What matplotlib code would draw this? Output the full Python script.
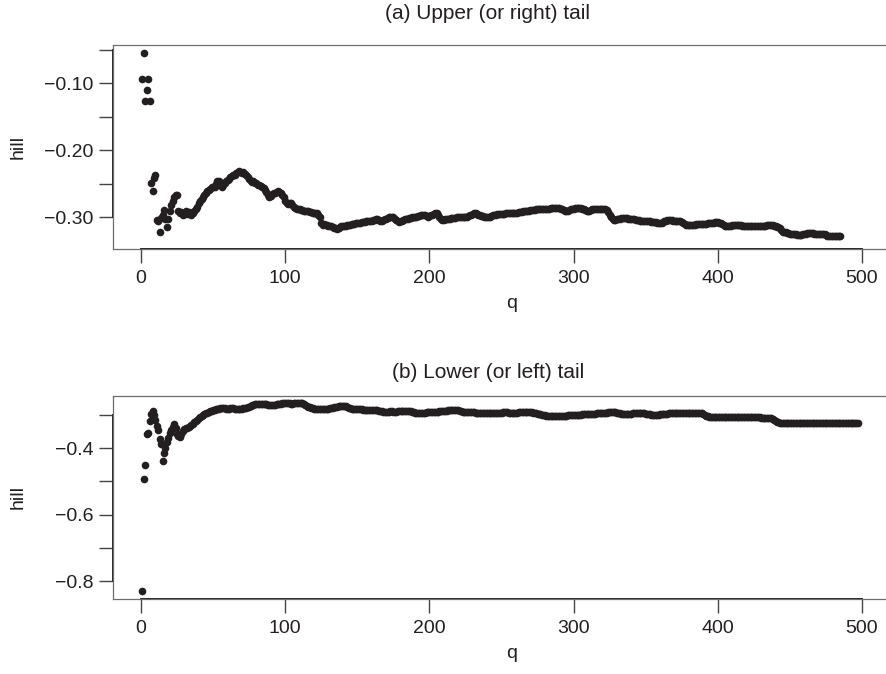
import numpy as np
import matplotlib.pyplot as plt

plt.rcParams['font.family'] = ['Liberation Sans', 'DejaVu Sans']

# hill estimates (x 1000), one value per q
hill_upper = np.array([
    -94, -55, -126, -110, -94, -126, -249, -260, -241, -236,
    -304, -306, -322, -301, -296, -289, -303, -314, -303, -291,
    -281, -276, -270, -267, -266, -290, -294, -292, -296, -293,
    -291, -295, -292, -294, -297, -293, -290, -287, -284, -279,
    -275, -272, -269, -266, -263, -261, -259, -257, -255, -254,
    -255, -250, -245, -246, -252, -255, -252, -249, -246, -244,
    -242, -240, -238, -237, -236, -234, -232, -231, -233, -234,
    -233, -235, -237, -240, -243, -246, -247, -246, -248, -249,
    -251, -252, -253, -254, -256, -259, -262, -266, -269, -268,
    -265, -263, -264, -262, -261, -262, -264, -267, -270, -275,
    -279, -280, -278, -279, -282, -284, -286, -287, -288, -288,
    -289, -289, -290, -290, -291, -291, -292, -292, -293, -293,
    -294, -294, -296, -299, -309, -311, -310, -311, -311, -312,
    -312, -313, -314, -315, -316, -317, -315, -314, -313, -313,
    -312, -312, -311, -311, -311, -310, -310, -310, -309, -309,
    -308, -308, -307, -307, -307, -306, -306, -305, -305, -305,
    -304, -304, -303, -303, -304, -305, -305, -304, -303, -302,
    -301, -300, -299, -299, -300, -302, -304, -306, -307, -305,
    -305, -304, -303, -302, -302, -301, -301, -300, -300, -299,
    -299, -298, -298, -297, -297, -296, -297, -298, -299, -298,
    -297, -296, -295, -294, -294, -296, -299, -302, -304, -304,
    -303, -303, -302, -302, -301, -301, -301, -301, -300, -300,
    -300, -300, -299, -299, -299, -299, -298, -297, -296, -295,
    -294, -294, -295, -296, -297, -298, -298, -299, -299, -299,
    -299, -299, -298, -297, -296, -296, -295, -295, -295, -295,
    -295, -295, -294, -294, -294, -294, -294, -294, -293, -293,
    -293, -292, -292, -292, -291, -291, -290, -290, -290, -289,
    -289, -289, -289, -288, -288, -288, -288, -287, -287, -287,
    -287, -287, -287, -286, -286, -286, -286, -286, -286, -286,
    -287, -288, -289, -290, -290, -290, -289, -288, -287, -287,
    -286, -286, -286, -286, -286, -287, -288, -289, -290, -290,
    -290, -289, -288, -287, -287, -287, -287, -287, -287, -287,
    -287, -288, -289, -292, -296, -300, -303, -304, -304, -303,
    -302, -302, -301, -301, -301, -301, -301, -302, -302, -303,
    -303, -303, -304, -304, -304, -305, -305, -305, -305, -306,
    -306, -306, -306, -307, -307, -307, -307, -308, -308, -308,
    -308, -307, -306, -305, -304, -304, -304, -304, -305, -305,
    -305, -306, -306, -306, -307, -309, -310, -311, -311, -311,
    -311, -311, -311, -311, -310, -310, -310, -310, -310, -310,
    -310, -310, -309, -309, -309, -308, -308, -307, -307, -307,
    -308, -309, -310, -311, -312, -312, -312, -312, -312, -311,
    -311, -311, -311, -311, -311, -311, -312, -312, -312, -312,
    -312, -312, -312, -313, -313, -313, -313, -313, -313, -313,
    -313, -312, -312, -311, -311, -311, -311, -311, -312, -313,
    -314, -314, -315, -318, -321, -322, -322, -323, -323, -324,
    -324, -324, -325, -325, -326, -326, -326, -326, -325, -324,
    -324, -323, -323, -323, -323, -323, -324, -324, -324, -324,
    -324, -325, -325, -325, -326, -327, -328, -328, -328, -328,
    -328, -328, -328, -328, -328,
]) / 1000

hill_lower = np.array([
    -829, -492, -452, -356, -353, -318, -298, -287, -300, -316,
    -333, -346, -372, -388, -439, -414, -398, -380, -368, -355,
    -345, -335, -326, -340, -358, -364, -366, -356, -348, -342,
    -340, -338, -335, -332, -329, -326, -322, -318, -314, -310,
    -306, -303, -300, -298, -295, -293, -291, -289, -287, -285,
    -284, -283, -282, -281, -280, -279, -279, -280, -281, -281,
    -281, -280, -280, -280, -281, -282, -283, -283, -282, -281,
    -280, -279, -278, -277, -275, -273, -271, -269, -268, -267,
    -267, -266, -266, -266, -267, -268, -268, -269, -270, -271,
    -271, -270, -269, -268, -267, -266, -266, -265, -264, -263,
    -263, -264, -265, -266, -266, -265, -264, -263, -263, -263,
    -264, -265, -267, -269, -272, -275, -277, -279, -280, -281,
    -282, -283, -283, -283, -283, -283, -283, -283, -282, -281,
    -280, -279, -278, -277, -276, -275, -274, -274, -273, -273,
    -273, -274, -276, -278, -280, -282, -283, -283, -283, -283,
    -283, -283, -283, -284, -284, -284, -284, -284, -285, -285,
    -285, -285, -286, -286, -287, -288, -289, -290, -290, -291,
    -290, -290, -289, -289, -290, -290, -290, -289, -289, -289,
    -289, -289, -288, -288, -288, -289, -289, -290, -291, -293,
    -294, -295, -295, -295, -295, -294, -293, -292, -292, -291,
    -291, -291, -291, -290, -290, -290, -289, -289, -288, -288,
    -287, -287, -286, -286, -285, -285, -284, -284, -284, -285,
    -287, -289, -290, -291, -291, -291, -291, -292, -292, -292,
    -292, -293, -293, -293, -293, -293, -294, -294, -294, -294,
    -294, -294, -295, -295, -295, -295, -295, -295, -294, -293,
    -292, -291, -291, -292, -293, -294, -295, -295, -294, -293,
    -293, -292, -292, -292, -292, -291, -291, -291, -291, -291,
    -292, -293, -294, -295, -296, -297, -298, -299, -300, -301,
    -302, -302, -303, -303, -303, -304, -304, -304, -304, -304,
    -304, -303, -303, -302, -302, -301, -301, -300, -300, -300,
    -300, -299, -299, -299, -299, -298, -298, -298, -298, -297,
    -297, -297, -296, -296, -296, -295, -295, -295, -294, -294,
    -294, -293, -293, -292, -292, -291, -291, -291, -292, -293,
    -294, -295, -296, -297, -298, -298, -298, -298, -297, -296,
    -295, -295, -294, -294, -294, -294, -294, -294, -295, -296,
    -297, -298, -298, -299, -299, -300, -300, -300, -299, -298,
    -297, -297, -296, -296, -296, -295, -295, -295, -295, -295,
    -294, -294, -294, -294, -294, -294, -294, -294, -294, -294,
    -294, -294, -294, -294, -294, -294, -294, -294, -295, -297,
    -300, -302, -304, -305, -305, -305, -305, -305, -305, -305,
    -305, -305, -305, -305, -305, -305, -305, -305, -305, -306,
    -306, -306, -306, -306, -306, -306, -306, -306, -306, -307,
    -307, -307, -307, -307, -307, -307, -307, -307, -307, -308,
    -308, -308, -308, -308, -309, -309, -310, -312, -315, -318,
    -320, -322, -323, -323, -323, -324, -324, -324, -324, -324,
    -324, -324, -324, -323, -323, -323, -323, -323, -323, -323,
    -323, -323, -323, -323, -323, -323, -323, -323, -323, -323,
    -323, -323, -323, -323, -323, -323, -323, -323, -323, -323,
    -323, -324, -324, -324, -324, -324, -324, -324, -324, -324,
    -324, -324, -324, -324, -324, -324, -323,
]) / 1000

q_upper = np.arange(1, len(hill_upper) + 1)
q_lower = np.arange(1, len(hill_lower) + 1)

titles = ["(a) Upper (or right) tail", "(b) Lower (or left) tail"]
x_ticks = [0, 100, 200, 300, 400, 500]
y_major = [[-0.10, -0.20, -0.30], [-0.4, -0.6, -0.8]]
y_labels = [["\u22120.10", "\u22120.20", "\u22120.30"], ["\u22120.4", "\u22120.6", "\u22120.8"]]
y_minor = [[-0.05, -0.15, -0.25], [-0.3, -0.5, -0.7]]
y_lims = [(-0.347, -0.043), (-0.854, -0.242)]
title_pads = [18.5, 13]

ink = '#231f20'
box = '#6d6d6d'

fig = plt.figure(figsize=(8.86, 6.74), dpi=100)
# right edge of the box lies outside the picture, as in the original crop
ax1 = fig.add_axes([113 / 886, 1 - 249 / 674, 790 / 886, 204 / 674])
ax2 = fig.add_axes([113 / 886, 1 - 599 / 674, 790 / 886, 203.3 / 674])

for i, (ax, q, h) in enumerate([(ax1, q_upper, hill_upper), (ax2, q_lower, hill_lower)]):
    ax.plot(q, h, 'o', ms=5.5, color=ink, mew=0)
    ax.set_xlim(-19.4, 528.4)
    ax.set_ylim(*y_lims[i])
    ax.set_xticks(x_ticks)
    ax.set_xticklabels([str(t) for t in x_ticks])
    ax.set_yticks(y_major[i])
    ax.set_yticklabels(y_labels[i])
    ax.set_yticks(y_minor[i], minor=True)
    ax.tick_params(axis='both', which='both', direction='out', length=9.8,
                   width=1.0, color='#444444', labelsize=14, labelcolor=ink)
    ax.tick_params(axis='x', pad=5)
    ax.tick_params(axis='y', pad=4.5)
    for s in ax.spines.values():
        s.set_color(box)
        s.set_linewidth(0.9)
    ax.spines['right'].set_visible(False)
    # R style axis lines spanning the tick range
    ax.plot([0, 500], [0, 0], transform=ax.get_xaxis_transform(),
            color=ink, lw=1.4, clip_on=False)
    all_y = y_major[i] + y_minor[i]
    ax.plot([0, 0], [min(all_y), max(all_y)], transform=ax.get_yaxis_transform(),
            color=ink, lw=1.4, clip_on=False)
    ax.set_title(titles[i], fontsize=15, color=ink, x=(488 - 113) / 790, pad=title_pads[i])
    ax.set_xlabel("q", fontsize=14, color=ink)
    ax.xaxis.set_label_coords((512 - 113) / 790, -0.225)
    ax.set_ylabel("hill", fontsize=14, color=ink)
    ax.yaxis.set_label_coords(-0.111 * 777 / 790, 0.5)

fig.savefig("out.png", dpi=100)
